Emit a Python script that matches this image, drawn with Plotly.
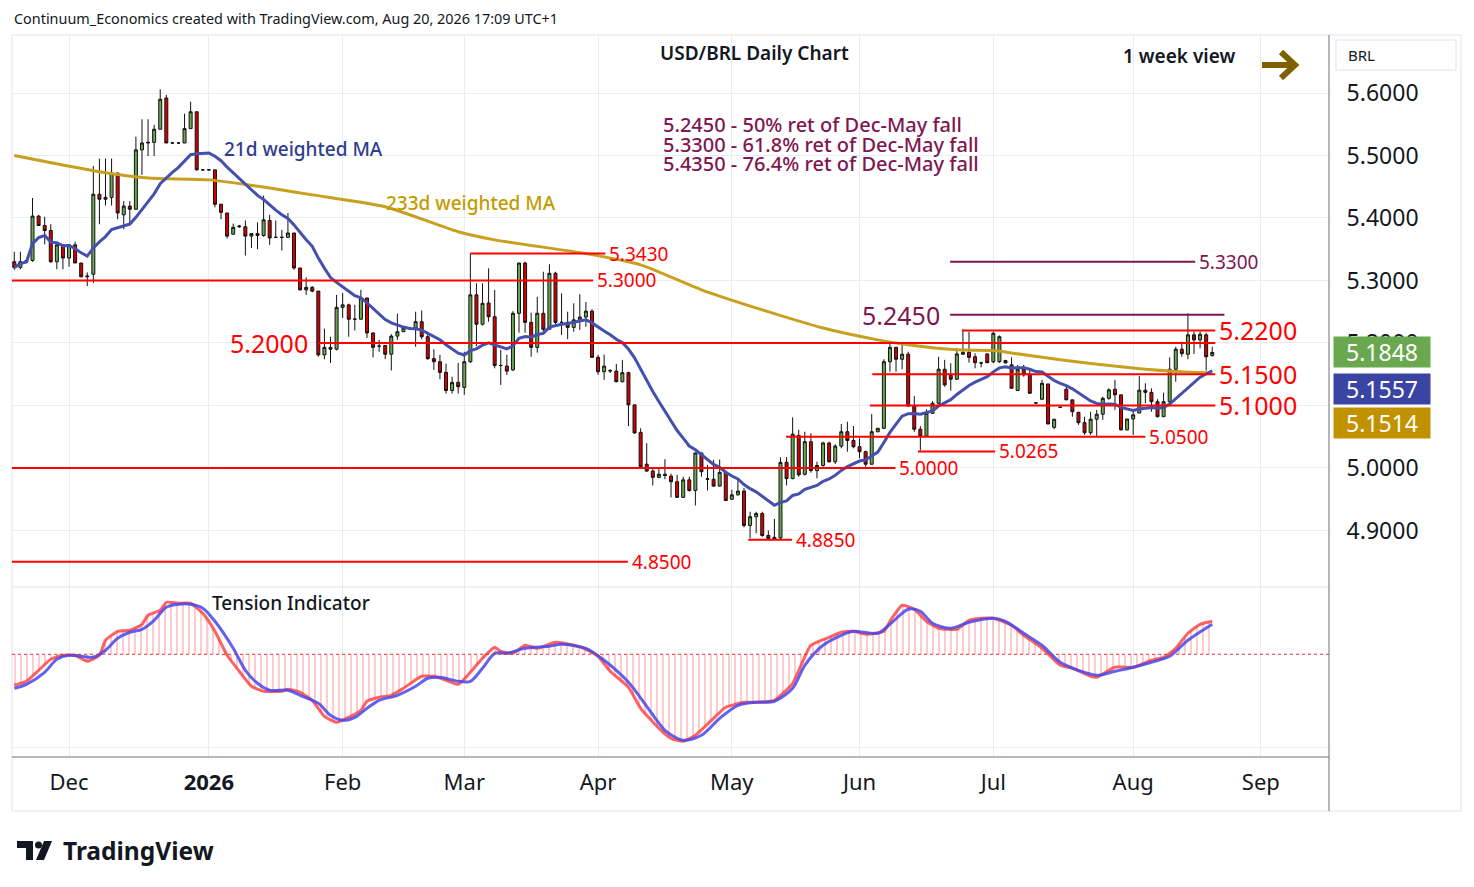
import pandas as pd
import plotly.graph_objects as go
from plotly.subplots import make_subplots

# one bar per weekday, Nov 18 2025 -> Aug 20 2026
days = pd.bdate_range("2025-11-18", "2026-08-20")
axis_days = pd.bdate_range("2025-11-18", "2026-09-30")

opens = [
    5.330, 5.321, 5.330, 5.332, 5.403, 5.388, 5.380, 5.330, 5.357,
    5.336, 5.357, 5.328, 5.306, 5.310, 5.438, 5.430, 5.433, 5.472, 5.405, 5.419, 5.414,
    5.509, 5.520, 5.521, 5.542, 5.592, 5.520, 5.520, 5.520, 5.543, 5.570, 5.477,
    5.477, 5.477, 5.422, 5.408, 5.374, 5.386, 5.386, 5.371, 5.375, 5.372, 5.396, 5.369,
    5.369, 5.369, 5.376, 5.320, 5.285, 5.289, 5.283, 5.181, 5.193, 5.190,
    5.257, 5.261, 5.238, 5.238, 5.272, 5.216, 5.195, 5.196, 5.182, 5.211, 5.218, 5.224,
    5.224, 5.234, 5.210, 5.175, 5.170, 5.153, 5.124, 5.137,
    5.129, 5.170, 5.277, 5.230, 5.264, 5.242, 5.164, 5.163, 5.157, 5.2475, 5.328, 5.233,
    5.193, 5.2475, 5.222, 5.3115, 5.233, 5.233, 5.225, 5.237, 5.2415, 5.251,
    5.177, 5.154, 5.155, 5.155, 5.138, 5.1525, 5.101, 5.057, 5.006, 4.995, 4.985, 4.990,
    4.987, 4.978, 4.953, 4.981, 4.964, 5.024, 4.983, 4.982, 4.971, 4.993,
    4.950, 4.957, 4.963, 4.908, 4.922, 4.927, 4.892, 4.886, 4.888, 5.009, 4.983, 5.052,
    4.990, 5.042, 4.996, 5.004, 5.040, 5.010, 5.035, 5.058, 5.044,
    5.034, 5.026, 5.006, 5.058, 5.0635, 5.170, 5.193, 5.174, 5.182, 5.099, 5.062, 5.051,
    5.0875, 5.1035, 5.158, 5.148, 5.142, 5.182, 5.185, 5.178, 5.168, 5.1825,
    5.170, 5.170, 5.172, 5.165, 5.124, 5.159, 5.150, 5.104, 5.110, 5.1345, 5.065, 5.097,
    5.126, 5.109, 5.089, 5.0725, 5.0565, 5.078, 5.086, 5.1115, 5.126, 5.117, 5.061,
    5.0784, 5.088, 5.1245, 5.121, 5.106, 5.082, 5.106, 5.158, 5.190, 5.182, 5.213, 5.205,
    5.213, 5.180,
]
highs = [
    5.346, 5.346, 5.334, 5.432, 5.405, 5.402, 5.390, 5.358, 5.358,
    5.358, 5.362, 5.328, 5.313, 5.483, 5.495, 5.495, 5.495, 5.472, 5.427, 5.427, 5.530,
    5.558, 5.558, 5.549, 5.606, 5.597, 5.521, 5.521, 5.567, 5.586, 5.570, 5.478,
    5.478, 5.477, 5.422, 5.408, 5.391, 5.389, 5.396, 5.375, 5.393, 5.436, 5.405, 5.396,
    5.381, 5.408, 5.376, 5.320, 5.305, 5.291, 5.283, 5.223, 5.210, 5.277,
    5.280, 5.263, 5.261, 5.285, 5.272, 5.217, 5.205, 5.196, 5.214, 5.247, 5.224, 5.225,
    5.250, 5.252, 5.218, 5.190, 5.181, 5.167, 5.146, 5.168,
    5.186, 5.343, 5.2955, 5.2955, 5.3195, 5.285, 5.189, 5.181, 5.251, 5.328, 5.330, 5.2485,
    5.274, 5.314, 5.326, 5.314, 5.2795, 5.250, 5.2635, 5.278, 5.2655, 5.254,
    5.181, 5.1815, 5.158, 5.1665, 5.173, 5.154, 5.101, 5.0635, 5.0395, 4.9995, 4.9995, 5.014,
    4.991, 4.989, 4.986, 4.986, 5.0245, 5.0245, 5.005, 5.013, 5.0135, 4.9935,
    4.965, 4.981, 4.968, 4.930, 4.930, 4.930, 4.900, 4.9185, 5.017, 5.0175, 5.081, 5.061,
    5.058, 5.0555, 5.010, 5.042, 5.042, 5.038, 5.0704, 5.074, 5.067,
    5.0475, 5.0277, 5.0864, 5.064, 5.174, 5.1995, 5.194, 5.198, 5.186, 5.115, 5.067, 5.094,
    5.107, 5.178, 5.173, 5.1675, 5.1915, 5.222, 5.218, 5.1835, 5.170, 5.183,
    5.218, 5.212, 5.173, 5.177, 5.165, 5.165, 5.157, 5.105, 5.141, 5.1345, 5.078, 5.098,
    5.133, 5.109, 5.090, 5.082, 5.090, 5.093, 5.114, 5.1275, 5.141, 5.117, 5.0784,
    5.093, 5.147, 5.1355, 5.1275, 5.110, 5.1205, 5.177, 5.194, 5.202, 5.2475, 5.218, 5.218,
    5.2165, 5.194,
]
lows = [
    5.317, 5.318, 5.329, 5.330, 5.387, 5.358, 5.328, 5.318, 5.318,
    5.322, 5.328, 5.305, 5.291, 5.296, 5.390, 5.420, 5.420, 5.398, 5.382, 5.391, 5.413,
    5.469, 5.499, 5.499, 5.542, 5.520, 5.519, 5.519, 5.520, 5.543, 5.476, 5.476,
    5.476, 5.417, 5.398, 5.367, 5.374, 5.384, 5.340, 5.352, 5.350, 5.370, 5.357, 5.368,
    5.348, 5.369, 5.317, 5.284, 5.277, 5.281, 5.178, 5.174, 5.168, 5.188,
    5.240, 5.210, 5.220, 5.238, 5.208, 5.177, 5.186, 5.174, 5.156, 5.205, 5.218, 5.223,
    5.194, 5.206, 5.173, 5.157, 5.142, 5.119, 5.119, 5.119,
    5.117, 5.168, 5.195, 5.228, 5.234, 5.1595, 5.133, 5.149, 5.155, 5.2165, 5.2165, 5.178,
    5.1845, 5.2155, 5.222, 5.229, 5.213, 5.206, 5.218, 5.221, 5.226, 5.177,
    5.149, 5.141, 5.152, 5.137, 5.137, 5.067, 5.055, 5.001, 4.994, 4.972, 4.9835, 4.982,
    4.953, 4.952, 4.952, 4.962, 4.940, 4.986, 4.964, 4.970, 4.970, 4.947,
    4.949, 4.956, 4.905, 4.8875, 4.8955, 4.890, 4.885, 4.885, 4.886, 4.972, 4.982, 4.986,
    4.988, 4.9925, 4.9835, 5.002, 5.0085, 5.0064, 5.0315, 5.026, 5.0315,
    5.0155, 5.002, 5.005, 5.057, 5.062, 5.154, 5.154, 5.158, 5.098, 5.058, 5.028, 5.050,
    5.087, 5.103, 5.130, 5.1237, 5.141, 5.181, 5.1685, 5.1595, 5.161, 5.1675,
    5.1675, 5.168, 5.168, 5.1275, 5.124, 5.146, 5.119, 5.103, 5.109, 5.070, 5.062, 5.096,
    5.109, 5.082, 5.069, 5.053, 5.053, 5.051, 5.077, 5.109, 5.093, 5.060, 5.060,
    5.053, 5.0875, 5.1035, 5.090, 5.081, 5.082, 5.1035, 5.138, 5.178, 5.174, 5.1825, 5.1915,
    5.1557, 5.178,
]
closes = [
    5.321, 5.330, 5.332, 5.403, 5.388, 5.380, 5.330, 5.357, 5.336,
    5.357, 5.328, 5.306, 5.307, 5.438, 5.430, 5.433, 5.472, 5.408, 5.419, 5.414, 5.509,
    5.520, 5.521, 5.542, 5.590, 5.520, 5.520, 5.520, 5.543, 5.570, 5.477, 5.477,
    5.477, 5.422, 5.409, 5.371, 5.385, 5.387, 5.371, 5.375, 5.372, 5.397, 5.368, 5.369,
    5.369, 5.376, 5.320, 5.285, 5.289, 5.283, 5.181, 5.193, 5.190, 5.257,
    5.261, 5.238, 5.238, 5.272, 5.216, 5.193, 5.195, 5.182, 5.211, 5.218, 5.224, 5.224,
    5.234, 5.210, 5.175, 5.170, 5.153, 5.124, 5.137, 5.130,
    5.170, 5.277, 5.230, 5.2635, 5.242, 5.164, 5.164, 5.155, 5.2475, 5.328, 5.233, 5.193,
    5.2475, 5.222, 5.3115, 5.233, 5.233, 5.225, 5.237, 5.2415, 5.251, 5.177,
    5.154, 5.163, 5.156, 5.138, 5.1525, 5.101, 5.056, 5.002, 4.995, 4.985, 4.990, 4.988,
    4.978, 4.953, 4.981, 4.964, 5.024, 4.994, 4.982, 4.971, 4.993, 4.948,
    4.957, 4.963, 4.908, 4.922, 4.927, 4.892, 4.887, 4.889, 5.009, 4.983, 5.054, 4.989,
    5.042, 4.996, 5.004, 5.040, 5.010, 5.035, 5.058, 5.044, 5.034,
    5.026, 5.006, 5.058, 5.0635, 5.170, 5.193, 5.174, 5.182, 5.099, 5.062, 5.051, 5.0875,
    5.1035, 5.158, 5.133, 5.142, 5.1825, 5.185, 5.177, 5.1685, 5.168, 5.1685,
    5.2155, 5.210, 5.168, 5.1275, 5.158, 5.149, 5.1195, 5.104, 5.1355, 5.0704, 5.078, 5.097,
    5.109, 5.090, 5.0725, 5.0565, 5.078, 5.086, 5.1115, 5.125, 5.117, 5.061, 5.0784,
    5.085, 5.1245, 5.121, 5.106, 5.082, 5.106, 5.158, 5.190, 5.183, 5.213, 5.205, 5.214,
    5.178, 5.1848,
]

# 233d weighted MA at a few bars
ma233_bar = [0, 14, 22, 32, 42, 49, 61, 73, 79, 94, 103, 113, 123, 133, 142, 147,
             155, 161, 164, 172, 182, 190, 197]
ma233_val = [5.500, 5.474, 5.464, 5.461, 5.448, 5.437, 5.418, 5.378, 5.365, 5.343,
             5.325, 5.285, 5.253, 5.224, 5.205, 5.197, 5.189, 5.188, 5.184, 5.173,
             5.162, 5.155, 5.1514]

# tension indicator (red) and its signal (blue)
ti_bar = [0, 2, 4, 6, 8, 10, 12, 14, 15, 17, 19, 21, 22, 24, 25, 27, 29, 31, 33, 35,
          37, 39, 41, 44, 45, 47, 49, 51, 53, 55, 57, 58, 60, 62, 64, 67, 69, 71, 73,
          75, 77, 79, 80, 82, 84, 86, 89, 92, 94, 96, 98, 101, 103, 106, 108, 110,
          112, 115, 117, 120, 122, 125, 128, 131, 134, 136, 138, 140, 143, 144, 146,
          148, 150, 152, 155, 157, 159, 161, 164, 166, 169, 172, 174, 177, 178, 181,
          184, 187, 189, 191, 193, 195, 197]
ti_val = [-3.1, -2.7, -1.6, -0.5, -0.1, -0.1, -0.7, -0.1, 1.4, 2.3, 2.4, 3.0, 3.9,
          4.4, 5.2, 5.1, 5.1, 4.1, 2.3, -0.1, -1.7, -3.2, -3.7, -3.7, -3.5, -3.8,
          -4.6, -6.2, -6.8, -6.3, -5.6, -4.7, -4.3, -4.1, -3.4, -2.2, -2.2, -2.6,
          -3.0, -1.8, -0.4, 0.7, 0.3, 0.1, 0.9, 0.6, 1.2, 0.9, 0.5, -0.2, -1.7, -3.3,
          -5.4, -7.4, -8.4, -8.7, -8.1, -6.4, -5.3, -4.8, -4.8, -4.6, -2.9, 0.9, 1.7,
          2.2, 2.3, 2.0, 2.3, 3.3, 4.9, 4.5, 3.3, 2.6, 2.5, 3.4, 3.6, 3.6, 2.9, 1.9,
          0.6, -1.1, -1.4, -2.2, -2.3, -1.3, -1.3, -0.6, -0.3, 0.6, 2.1, 3.0, 3.3]
sig_bar = [0, 2, 5, 7, 9, 11, 13, 15, 17, 19, 21, 23, 25, 27, 29, 31, 33, 36, 38, 40,
           42, 45, 47, 50, 52, 54, 56, 58, 60, 63, 66, 68, 70, 73, 75, 77, 79, 81,
           84, 88, 90, 94, 97, 101, 104, 107, 110, 113, 116, 119, 122, 125, 128, 130,
           133, 136, 138, 142, 144, 147, 149, 151, 154, 157, 161, 163, 166, 169, 172,
           175, 178, 181, 184, 187, 190, 193, 197]
sig_val = [-3.4, -3.0, -1.8, -0.5, -0.1, -0.2, -0.3, 0.4, 1.6, 2.2, 2.5, 3.4, 4.7,
           5.0, 5.0, 4.6, 3.3, 0.6, -1.6, -2.9, -3.6, -3.6, -4.1, -4.9, -6.1, -6.6,
           -6.3, -5.4, -4.6, -4.1, -3.2, -2.4, -2.3, -2.7, -2.7, -1.4, 0.1, 0.1, 0.6,
           0.8, 1.0, 0.6, -0.6, -2.8, -5.2, -7.6, -8.6, -8.1, -6.4, -5.1, -4.8, -4.7,
           -3.4, -1.1, 0.9, 1.9, 2.3, 2.1, 3.0, 4.5, 4.3, 3.1, 2.6, 3.2, 3.6, 3.3, 2.1,
           0.9, -0.8, -1.6, -2.1, -1.7, -1.3, -0.8, -0.2, 1.4, 3.0]

# horizontal levels: price, first bar, last bar, label, style
levels = [
    (5.3430, 75.0, 97.2, "5.3430", "red"),
    (5.3000, -0.4, 95.2, "5.3000", "red"),
    (5.2000, 50.0, 197.5, "5.2000", "red_big_left"),
    (5.2450, 153.9, 199.0, "5.2450", "purple_big_left"),
    (5.3300, 153.9, 194.2, "5.3300", "purple"),
    (5.2200, 155.9, 197.5, "5.2200", "red_big"),
    (5.1500, 141.1, 197.5, "5.1500", "red_big"),
    (5.1000, 140.7, 197.5, "5.1000", "red_big"),
    (5.0500, 126.9, 186.0, "5.0500", "red"),
    (5.0265, 148.6, 161.3, "5.0265", "red"),
    (5.0000, -0.4, 144.9, "5.0000", "red"),
    (4.8850, 120.7, 127.9, "4.8850", "red"),
    (4.8500, -0.4, 100.9, "4.8500", "red"),
]
fib_notes = [
    "5.2450 - 50% ret of Dec-May fall",
    "5.3300 - 61.8% ret of Dec-May fall",
    "5.4350 - 76.4% ret of Dec-May fall",
]
price_ticks = [4.9, 5.0, 5.1, 5.2, 5.3, 5.4, 5.5, 5.6]
hidden_ticks = [5.1]  # fully covered by the value tags in the original
last_close = closes[-1]
last_wma21 = 5.1557
last_ma233 = 5.1514

FONT = "Noto Sans"
RED = "#ff0000"
PURPLE = "#801650"
W, H = 1458, 871
ML, MR, MT, MB = 4, 137, 27, 122


def px(x):
    # page pixel -> paper x
    return (x - 8 - ML) / (W - ML - MR)


def py(y):
    # page pixel -> paper y
    return (H - MB - (y - 8)) / (H - MT - MB)


bars = list(range(len(days)))

# 21-bar weighted moving average of the closes
wma21 = []
for i in range(len(closes)):
    n = min(21, i + 1)
    window = closes[i - n + 1:i + 1]
    weights = list(range(1, n + 1))
    wma21.append(sum(w * c for w, c in zip(weights, window)) / sum(weights))

# month ticks: first weekday of every month
month_pos, month_txt = [], []
for i, d in enumerate(axis_days):
    if d.month != 11 and (i == 0 or axis_days[i - 1].month != d.month):
        month_pos.append(i)
        month_txt.append("<b>2026</b>" if d.month == 1 else d.strftime("%b"))

fig = make_subplots(rows=2, cols=1, shared_xaxes=True, vertical_spacing=0)

fig.add_trace(go.Scatter(
    x=ma233_bar, y=ma233_val, mode="lines",
    line=dict(color="#c7a020", width=3, shape="spline", smoothing=0.6),
    hoverinfo="skip",
), row=1, col=1)

fig.add_trace(go.Scatter(
    x=bars, y=wma21, mode="lines",
    line=dict(color="#4550ad", width=3), hoverinfo="skip",
), row=1, col=1)

for lvl, x0, x1, txt, style in levels:
    col = PURPLE if style.startswith("purple") else RED
    fig.add_trace(go.Scatter(
        x=[x0, x1], y=[lvl, lvl], mode="lines",
        line=dict(color=col, width=2), hoverinfo="skip",
    ), row=1, col=1)
    big = "big" in style
    left = style.endswith("left")
    fig.add_annotation(
        x=x0 if left else x1, y=lvl, xref="x", yref="y",
        text=txt, showarrow=False,
        xanchor="right" if left else "left", yanchor="middle",
        xshift=-8 if left else 2, yshift=0,
        font=dict(family=FONT, size=25 if big else 19, color=col),
    )

fig.add_trace(go.Candlestick(
    x=bars, open=opens, high=highs, low=lows, close=closes,
    increasing=dict(fillcolor="#6aa84f", line=dict(color="#111111", width=1)),
    decreasing=dict(fillcolor="#d40000", line=dict(color="#111111", width=1)),
    whiskerwidth=0, hoverinfo="skip",
), row=1, col=1)

# tension indicator
fig.add_trace(go.Scatter(
    x=ti_bar, y=ti_val, mode="lines",
    line=dict(color="rgba(255,45,45,0.75)", width=3, shape="spline", smoothing=0.5),
    fill="tozeroy", fillcolor="rgba(0,0,0,0)",
    fillpattern=dict(shape="|", fgcolor="rgba(255,50,50,0.85)",
                     bgcolor="rgba(0,0,0,0)", size=6, solidity=0.2),
    hoverinfo="skip",
), row=2, col=1)
fig.add_trace(go.Scatter(
    x=sig_bar, y=sig_val, mode="lines",
    line=dict(color="rgba(70,70,235,0.85)", width=3, shape="spline", smoothing=0.8),
    hoverinfo="skip",
), row=2, col=1)

xr = [-0.375, 216.2]
grid = "#e9eef5"
fig.update_xaxes(range=xr, tickvals=month_pos, showgrid=True, gridcolor=grid,
                 zeroline=False, rangeslider_visible=False, showline=False)
fig.update_xaxes(showticklabels=False, row=1, col=1)
fig.update_xaxes(ticktext=month_txt, ticks="outside", ticklen=6,
                 tickcolor="rgba(0,0,0,0)",
                 tickfont=dict(family=FONT, size=22, color="#131722"), row=2, col=1)

fig.update_layout(
    width=W, height=H,
    margin=dict(l=ML, r=MR, t=MT, b=MB),
    paper_bgcolor="white", plot_bgcolor="white",
    showlegend=False,
    font=dict(family=FONT, color="#131722"),
    yaxis=dict(domain=[0.2355, 1], range=[4.8096, 5.6928], side="right",
               tickvals=price_ticks,
               ticktext=["" if v in hidden_ticks else f"{v:.4f}" for v in price_ticks],
               tickfont=dict(family=FONT, size=23, color="#131722"),
               ticks="outside", ticklen=12, tickcolor="rgba(0,0,0,0)",
               showgrid=True, gridcolor=grid, zeroline=False),
    yaxis2=dict(domain=[0, 0.2355], range=[-10.27, 6.73], side="right",
                tickvals=[-9.34], showticklabels=False, showgrid=True,
                gridcolor=grid, zeroline=False),
)

# zero line of the indicator
fig.add_shape(type="line", xref="paper", yref="y2", x0=0, x1=1, y0=0, y1=0,
              line=dict(color="#e03030", width=1, dash="dot"))

# frame and separators
frame = "#e0e3eb"
fig.add_shape(type="rect", xref="paper", yref="paper", x0=px(12), x1=px(1461),
              y0=py(811), y1=py(35), line=dict(color=frame, width=1), layer="below")
fig.add_shape(type="line", xref="paper", yref="paper", x0=px(12), x1=px(1329),
              y0=py(587), y1=py(587), line=dict(color=frame, width=1))
fig.add_shape(type="line", xref="paper", yref="paper", x0=px(12), x1=px(1329),
              y0=py(757), y1=py(757), line=dict(color="#6b6f7a", width=1))
fig.add_shape(type="line", xref="paper", yref="paper", x0=px(1329), x1=px(1329),
              y0=py(811), y1=py(35), line=dict(color="#6b6f7a", width=1))
fig.add_shape(type="rect", xref="paper", yref="paper", x0=px(1336), x1=px(1456),
              y0=py(70), y1=py(40), line=dict(color=frame, width=1))

# direction arrow
arrow = (f"M{px(1262)},{py(65)} L{px(1293)},{py(65)} "
         f"M{px(1281)},{py(52)} L{px(1295)},{py(65)} L{px(1281)},{py(78)}")
fig.add_shape(type="path", xref="paper", yref="paper", path=arrow,
              line=dict(color="#7f6000", width=6))

# TradingView logo mark
logo_t = (f"M{px(17)},{py(841)} L{px(33)},{py(841)} L{px(33)},{py(860)} "
          f"L{px(26)},{py(860)} L{px(26)},{py(848)} L{px(17)},{py(848)} Z")
logo_s = (f"M{px(44)},{py(841)} L{px(52)},{py(841)} L{px(44)},{py(860)} "
          f"L{px(36)},{py(860)} Z")
for p in (logo_t, logo_s):
    fig.add_shape(type="path", xref="paper", yref="paper", path=p,
                  fillcolor="#131722", line=dict(width=0))
fig.add_shape(type="circle", xref="paper", yref="paper", x0=px(35), x1=px(42),
              y0=py(848.5), y1=py(841.5), fillcolor="#131722", line=dict(width=0))


def note(x, y, text, size, color="#131722", anchor="left", weight="normal"):
    fig.add_annotation(x=px(x), y=py(y), xref="paper", yref="paper", text=text,
                       showarrow=False, xanchor=anchor, yanchor="middle",
                       font=dict(family=FONT, size=size, color=color, weight=weight))


note(12, 19, "Continuum_Economics created with TradingView.com, Aug 20, 2026 17:09 UTC+1", 14.4)
note(754, 53, "USD/BRL Daily Chart", 19, anchor="center", weight=600)
note(1121, 56, "1 week view", 19, weight=600)
for k, t in enumerate(fib_notes):
    note(661, 124 + 20 * k, t, 20, color=PURPLE, weight=500)
note(222, 149, "21d weighted MA", 19, color="#2e3d8f", weight=500)
note(384, 203, "233d weighted MA", 19, color="#c29b00", weight=500)
note(210, 603, "Tension Indicator", 19, weight=500)
note(1346, 55, "BRL", 15)
note(61, 850, "TradingView", 24.5, weight="bold")

# last value tags on the price scale
for val, shift, col in [(last_close, 0, "#6aa84f"), (last_wma21, -18, "#3a44a3"),
                        (last_ma233, -50, "#c19100")]:
    fig.add_annotation(x=1, y=val, xref="paper", yref="y", text=f"{val:.4f}",
                       showarrow=False, xanchor="left", yanchor="middle",
                       xshift=4, yshift=shift, width=94, height=28, align="center",
                       bgcolor=col, borderpad=1,
                       font=dict(family=FONT, size=23, color="white"))

fig.write_html("out.html")
